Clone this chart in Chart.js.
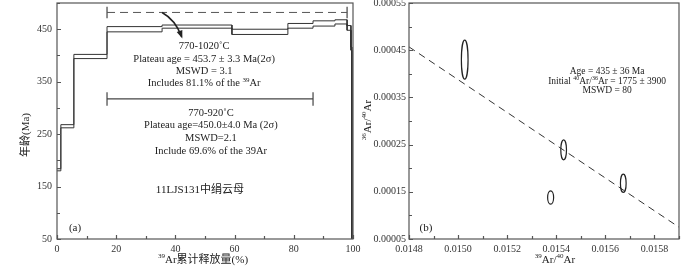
<!DOCTYPE html>
<html>
<head>
<meta charset="utf-8">
<script src="https://cdn.jsdelivr.net/npm/chart.js@4"></script>
<style>
  html, body { margin: 0; padding: 0; background: #fff; }
  #wrap { position: relative; width: 700px; height: 270px; overflow: hidden; }
  .box { position: absolute; top: 0; height: 270px; }
  #boxA { left: 0; width: 372px; }
  #boxB { left: 356px; width: 344px; }
</style>
</head>
<body>
<div id="wrap">
  <div class="box" id="boxA"><canvas id="spectrumChart"></canvas></div>
  <div class="box" id="boxB"><canvas id="isochronChart"></canvas></div>
</div>
<script>
// (a) age spectrum: cumulative 39Ar released (%) at the start of each step, age band (Ma)
const stepStart = [0, 1.3, 5.7, 16.9, 35.5, 59.1, 78.0, 86.5, 93.9, 98.0, 99.3, 99.6];
const stepLow = [180, 262, 394, 445, 452, 440, 452, 456, 460, 448, 410, 0];
const stepHigh = [184, 268, 402, 455, 458, 450, 461, 466, 468, 457, 416, 10];
const spectrumEnd = 100;

// plateau bars: 770-1020˚C (dashed) and 770-920˚C (solid)
const plateauFrom = [16.9, 16.9];
const plateauTo = [98.0, 86.5];
const plateauAge = [482, 317];

const ageTicks = [50, 150, 250, 350, 450];
const pctTicks = [0, 20, 40, 60, 80, 100];

// (b) inverse isochron: 39Ar/40Ar, 36Ar/40Ar and their error half-widths
const isoX = [0.015027, 0.01543, 0.015377, 0.015673];
const isoY = [0.000430, 0.000239, 0.000138, 0.000168];
const isoErrX = [0.0000136, 0.0000116, 0.0000122, 0.0000116];
const isoErrY = [0.0000413, 0.0000212, 0.0000141, 0.0000194];
const fitX = [0.0148, 0.0159];
const fitY = [0.000457, 0.000075];

const isoYTicks = [0.00005, 0.00015, 0.00025, 0.00035, 0.00045, 0.00055];
const isoXTicks = [0.0148, 0.015, 0.0152, 0.0154, 0.0156, 0.0158];

const SERIF = '"Liberation Serif", "Noto Sans CJK SC", serif';
const INK = "#222";

function inList(list, v) {
  return list.some((t) => Math.abs(t - v) < 1e-9);
}

// text with superscript parts, centred on cx
function drawRich(ctx, parts, cx, y, size) {
  const supSize = Math.round(size * 0.62);
  let w = 0;
  parts.forEach(([t, sup]) => {
    ctx.font = `${sup ? supSize : size}px ${SERIF}`;
    w += ctx.measureText(t).width;
  });
  let x = cx - w / 2;
  ctx.textAlign = "left";
  ctx.textBaseline = "middle";
  parts.forEach(([t, sup]) => {
    ctx.font = `${sup ? supSize : size}px ${SERIF}`;
    ctx.fillText(t, x, sup ? y - size * 0.32 : y);
    x += ctx.measureText(t).width;
  });
}

// box round the plot and short inward tick marks
const framePlugin = {
  id: "frame",
  afterDraw(chart) {
    const { ctx, chartArea: a } = chart;
    const sx = chart.scales.x, sy = chart.scales.y;
    ctx.save();
    ctx.strokeStyle = "#555";
    ctx.lineWidth = 1.2;
    ctx.strokeRect(a.left, a.top, a.right - a.left, a.bottom - a.top);
    ctx.beginPath();
    sx.ticks.forEach((t) => {
      const px = Math.round(sx.getPixelForValue(t.value)) + 0.5;
      const len = t.label !== "" ? 4 : 3;
      ctx.moveTo(px, a.bottom);
      ctx.lineTo(px, a.bottom - len);
    });
    sy.ticks.forEach((t) => {
      const py = Math.round(sy.getPixelForValue(t.value)) + 0.5;
      const len = t.label !== "" ? 4 : 3;
      ctx.moveTo(a.left, py);
      ctx.lineTo(a.left + len, py);
    });
    ctx.stroke();
    ctx.restore();
  },
};

function stepPoints(values) {
  const pts = [];
  values.forEach((v, i) => {
    const end = i + 1 < stepStart.length ? stepStart[i + 1] : spectrumEnd;
    pts.push({ x: stepStart[i], y: v }, { x: end, y: v });
  });
  return pts;
}

function plateauEnds() {
  const pts = [];
  const half = [11, 13];
  plateauFrom.forEach((f, i) => {
    [f, plateauTo[i]].forEach((x) => {
      pts.push({ x, y: plateauAge[i] - half[i] }, { x, y: plateauAge[i] + half[i] }, { x, y: null });
    });
  });
  return pts;
}

const spectrumText = {
  id: "spectrumText",
  afterDraw(chart) {
    const { ctx, chartArea: a } = chart;
    const sx = chart.scales.x, sy = chart.scales.y;
    const X = (v) => sx.getPixelForValue(v);
    const Y = (v) => sy.getPixelForValue(v);
    ctx.save();
    ctx.fillStyle = INK;

    const block1 = [
      [["770-1020˚C"]],
      [["Plateau age = 453.7 ± 3.3 Ma(2σ)"]],
      [["MSWD = 3.1"]],
      [["Includes 81.1% of the "], ["39", true], ["Ar"]],
    ];
    const y1 = [418, 392, 370, 347];
    block1.forEach((p, i) => drawRich(ctx, p, X(49.7), Y(y1[i]), 10.5));

    const block2 = [
      [["770-920˚C"]],
      [["Plateau age=450.0±4.0 Ma (2σ)"]],
      [["MSWD=2.1"]],
      [["Include 69.6% of the 39Ar"]],
    ];
    const y2 = [290, 267, 243, 217];
    block2.forEach((p, i) => drawRich(ctx, p, X(52), Y(y2[i]), 10.5));

    drawRich(ctx, [["11LJS131中绢云母"]], X(48.3), Y(143), 11);
    drawRich(ctx, [["(a)"]], X(6.1), Y(71), 11);

    // arrow from the dashed plateau to its label
    const p0 = { x: X(35.5), y: Y(482) };
    const c = { x: X(40), y: Y(468) };
    const p1 = { x: X(42.1), y: Y(436) };
    ctx.strokeStyle = INK;
    ctx.lineWidth = 1.6;
    ctx.beginPath();
    ctx.moveTo(p0.x, p0.y);
    ctx.quadraticCurveTo(c.x, c.y, p1.x, p1.y);
    ctx.stroke();
    const ang = Math.atan2(p1.y - c.y, p1.x - c.x);
    ctx.beginPath();
    ctx.moveTo(p1.x + 2 * Math.cos(ang), p1.y + 2 * Math.sin(ang));
    ctx.lineTo(p1.x - 6 * Math.cos(ang) + 3 * Math.sin(ang), p1.y - 6 * Math.sin(ang) - 3 * Math.cos(ang));
    ctx.lineTo(p1.x - 6 * Math.cos(ang) - 3 * Math.sin(ang), p1.y - 6 * Math.sin(ang) + 3 * Math.cos(ang));
    ctx.closePath();
    ctx.fill();

    // axis titles
    drawRich(ctx, [["39", true], ["Ar累计释放量(%)"]], (a.left + a.right) / 2 - 2, a.bottom + 21, 11);
    ctx.translate(a.left - 31, a.top + 132);
    ctx.rotate(-Math.PI / 2);
    drawRich(ctx, [["年龄(Ma)"]], 0, 0, 11);
    ctx.restore();
  },
};

const isoText = {
  id: "isoText",
  afterDatasetsDraw(chart) {
    const { ctx, chartArea: a } = chart;
    const sx = chart.scales.x, sy = chart.scales.y;
    const X = (v) => sx.getPixelForValue(v);
    const Y = (v) => sy.getPixelForValue(v);
    ctx.save();
    // error ellipses
    ctx.strokeStyle = INK;
    ctx.lineWidth = 1.2;
    isoX.forEach((x, i) => {
      const cx = X(x), cy = Y(isoY[i]);
      const rx = Math.abs(X(x + isoErrX[i]) - cx);
      const ry = Math.abs(Y(isoY[i] + isoErrY[i]) - cy);
      ctx.beginPath();
      ctx.ellipse(cx, cy, rx, ry, 0, 0, Math.PI * 2);
      ctx.stroke();
    });

    ctx.fillStyle = INK;
    const lines = [
      [["Age = 435 ± 36 Ma"]],
      [["Initial "], ["40", true], ["Ar/"], ["36", true], ["Ar = 1775 ± 3900"]],
      [["MSWD = 80"]],
    ];
    const ly = [0.000405, 0.000384, 0.000365];
    lines.forEach((p, i) => drawRich(ctx, p, X(0.015607), Y(ly[i]), 9.5));
    drawRich(ctx, [["(b)"]], X(0.014869), Y(0.0000733), 11);

    drawRich(ctx, [["39", true], ["Ar/"], ["40", true], ["Ar"]], a.left + 146, a.bottom + 21, 11);
    ctx.translate(a.left - 41, a.top + 117);
    ctx.rotate(-Math.PI / 2);
    drawRich(ctx, [["36", true], ["Ar/"], ["40", true], ["Ar"]], 0, 0, 11);
    ctx.restore();
  },
};

function fixY(width) {
  return (scale) => {
    scale.width = width;
    scale.paddingTop = 0;
    scale.paddingBottom = 0;
  };
}
function fixX(scale) {
  scale.height = 31;
  scale.paddingLeft = 0;
  scale.paddingRight = 0;
}

const tickFont = { family: SERIF, size: 10 };
const noGrid = { display: false, drawTicks: false };

new Chart(document.getElementById("spectrumChart"), {
  type: "line",
  data: {
    datasets: [
      { data: stepPoints(stepHigh), borderColor: "#333", borderWidth: 1 },
      { data: stepPoints(stepLow), borderColor: "#333", borderWidth: 1 },
      {
        data: [{ x: plateauFrom[0], y: plateauAge[0] }, { x: plateauTo[0], y: plateauAge[0] }],
        borderColor: "#555",
        borderWidth: 1,
        borderDash: [8, 5],
      },
      {
        data: [{ x: plateauFrom[1], y: plateauAge[1] }, { x: plateauTo[1], y: plateauAge[1] }],
        borderColor: "#444",
        borderWidth: 1.2,
      },
      { data: plateauEnds(), borderColor: "#444", borderWidth: 1.2, spanGaps: false },
    ],
  },
  options: {
    responsive: true,
    maintainAspectRatio: false,
    animation: false,
    layout: { padding: { top: 3, right: 19, left: 0, bottom: 0 } },
    elements: { point: { radius: 0 }, line: { tension: 0 } },
    plugins: { legend: { display: false }, tooltip: { enabled: false } },
    scales: {
      x: {
        type: "linear",
        min: 0,
        max: 100,
        grid: noGrid,
        border: { display: false },
        ticks: {
          stepSize: 10,
          autoSkip: false,
          maxRotation: 0,
          padding: 4,
          color: "#333",
          font: tickFont,
          callback: (v) => (inList(pctTicks, v) ? String(v) : ""),
        },
        afterFit: fixX,
      },
      y: {
        min: 50,
        max: 500,
        grid: noGrid,
        border: { display: false },
        ticks: {
          stepSize: 50,
          autoSkip: false,
          padding: 5,
          color: "#333",
          font: tickFont,
          callback: (v) => (inList(ageTicks, v) ? String(v) : ""),
        },
        afterFit: fixY(57),
      },
    },
  },
  plugins: [framePlugin, spectrumText],
});

new Chart(document.getElementById("isochronChart"), {
  type: "scatter",
  data: {
    datasets: [
      { data: isoX.map((x, i) => ({ x, y: isoY[i] })), pointRadius: 0 },
      {
        type: "line",
        data: fitX.map((x, i) => ({ x, y: fitY[i] })),
        borderColor: "#333",
        borderWidth: 1,
        borderDash: [7, 5],
        pointRadius: 0,
      },
    ],
  },
  options: {
    responsive: true,
    maintainAspectRatio: false,
    animation: false,
    layout: { padding: { top: 3, right: 21, left: 0, bottom: 0 } },
    plugins: { legend: { display: false }, tooltip: { enabled: false } },
    scales: {
      x: {
        type: "linear",
        min: 0.0148,
        max: 0.0159,
        grid: noGrid,
        border: { display: false },
        ticks: {
          stepSize: 0.0001,
          autoSkip: false,
          maxRotation: 0,
          padding: 4,
          color: "#333",
          font: tickFont,
          callback: (v) => (inList(isoXTicks, v) ? v.toFixed(4) : ""),
        },
        afterFit: fixX,
      },
      y: {
        min: 0.00005,
        max: 0.00055,
        grid: noGrid,
        border: { display: false },
        ticks: {
          stepSize: 0.00005,
          autoSkip: false,
          padding: 3,
          color: "#333",
          font: tickFont,
          callback: (v) => (inList(isoYTicks, v) ? v.toFixed(5) : ""),
        },
        afterFit: fixY(53),
      },
    },
  },
  plugins: [framePlugin, isoText],
});
</script>
</body>
</html>
